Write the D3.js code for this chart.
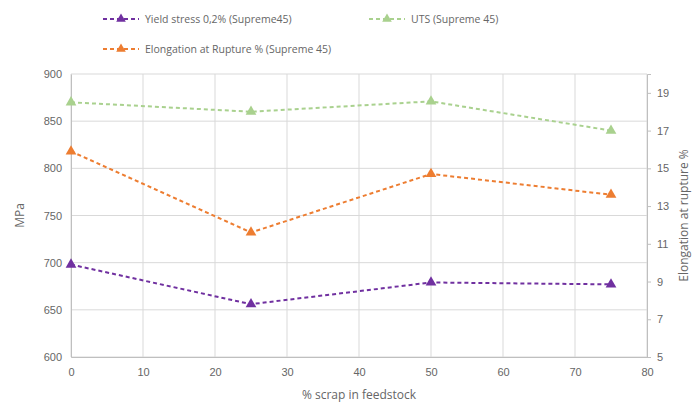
<!DOCTYPE html>
<html><head><meta charset="utf-8">
<script src="https://cdn.jsdelivr.net/npm/d3@7/dist/d3.min.js"></script>
<style>body{margin:0;background:#fff}svg{display:block;font-family:"Open Sans",sans-serif}</style>
</head><body><div id="c"></div>
<script>
const xValues = [0, 25, 50, 75];
const yieldStress = [698, 656, 679, 677];
const uts = [870, 860, 871, 840];
const elongation = [15.9, 11.6, 14.7, 13.6];
const xTicks = [0, 10, 20, 30, 40, 50, 60, 70, 80];
const leftTicks = [600, 650, 700, 750, 800, 850, 900];
const rightTicks = [5, 7, 9, 11, 13, 15, 17, 19];
const seriesNames = ["Yield stress 0,2% (Supreme45)", "UTS (Supreme 45)", "Elongation at Rupture % (Supreme 45)"];

const W = 700, H = 410;
const m = {l: 71, r: 53, t: 74, b: 53};
const svg = d3.select("#c").append("svg").attr("width", W).attr("height", H);
const x = d3.scaleLinear().domain([0, 80]).range([m.l, W - m.r]);
const yL = d3.scaleLinear().domain([600, 900]).range([H - m.b, m.t]);
const yR = d3.scaleLinear().domain([5, 20]).range([H - m.b, m.t]);
const grid = "#d9d9d9", txt = "#666666";

// gridlines
svg.append("g").selectAll("line").data(leftTicks).join("line")
  .attr("x1", x(0)).attr("x2", x(80)).attr("y1", d => yL(d)).attr("y2", d => yL(d))
  .attr("stroke", grid).attr("stroke-width", 1);
svg.append("g").selectAll("line").data(xTicks).join("line")
  .attr("x1", d => x(d)).attr("x2", d => x(d)).attr("y1", yL(600)).attr("y2", yL(900))
  .attr("stroke", grid).attr("stroke-width", 1);

// axes
const ax = svg.append("g").attr("transform", `translate(0,${yL(600)})`)
  .call(d3.axisBottom(x).tickValues(xTicks).tickSize(0).tickPadding(11));
const axL = svg.append("g").attr("transform", `translate(${x(0)},0)`)
  .call(d3.axisLeft(yL).tickValues(leftTicks).tickSize(0).tickPadding(9));
const axR = svg.append("g").attr("transform", `translate(${x(80)},0)`)
  .call(d3.axisRight(yR).tickValues(rightTicks).tickSize(4).tickPadding(6));
[ax, axL, axR].forEach(g => {
  g.select(".domain").attr("stroke", "#bfbfbf");
  g.selectAll(".tick line").attr("stroke", "#bfbfbf");
  g.selectAll("text").attr("fill", txt).attr("font-size", 11);
});

// axis titles
svg.append("text").attr("x", x(40)).attr("y", 399).attr("text-anchor", "middle")
  .attr("fill", txt).attr("font-size", 12).text("% scrap in feedstock");
svg.append("text").attr("transform", `translate(24,${(yL(600)+yL(900))/2}) rotate(-90)`)
  .attr("text-anchor", "middle").attr("fill", txt).attr("font-size", 12).text("MPa");
svg.append("text").attr("transform", `translate(688,${(yL(600)+yL(900))/2}) rotate(-90)`)
  .attr("text-anchor", "middle").attr("fill", txt).attr("font-size", 12).text("Elongation at rupture %");

const series = [
  {name: seriesNames[0], vals: yieldStress, y: yL, color: "#7030a0"},
  {name: seriesNames[1], vals: uts, y: yL, color: "#a9d18e"},
  {name: seriesNames[2], vals: elongation, y: yR, color: "#ed7d31"}
];
const tri = d3.symbol().type(d3.symbolTriangle).size(50);
series.forEach(s => {
  const line = d3.line().x((d, i) => x(xValues[i])).y(d => s.y(d));
  svg.append("path").datum(s.vals).attr("d", line).attr("fill", "none")
    .attr("stroke", s.color).attr("stroke-width", 2).attr("stroke-dasharray", "4,3");
  svg.append("g").selectAll("path").data(s.vals).join("path")
    .attr("d", tri).attr("fill", s.color)
    .attr("transform", (d, i) => `translate(${x(xValues[i])},${s.y(d)})`);
});

// legend
const leg = [
  {s: series[0], x: 103, y: 19},
  {s: series[1], x: 369, y: 19},
  {s: series[2], x: 103, y: 49}
];
leg.forEach(l => {
  svg.append("line").attr("x1", l.x).attr("x2", l.x + 36).attr("y1", l.y).attr("y2", l.y)
    .attr("stroke", l.s.color).attr("stroke-width", 2).attr("stroke-dasharray", "4,3");
  svg.append("path").attr("d", d3.symbol().type(d3.symbolTriangle).size(40)).attr("fill", l.s.color)
    .attr("transform", `translate(${l.x + 18},${l.y})`);
  svg.append("text").attr("x", l.x + 42).attr("y", l.y + 3.5).attr("fill", txt)
    .attr("font-size", 10.5).text(l.s.name);
});
</script></body></html>
